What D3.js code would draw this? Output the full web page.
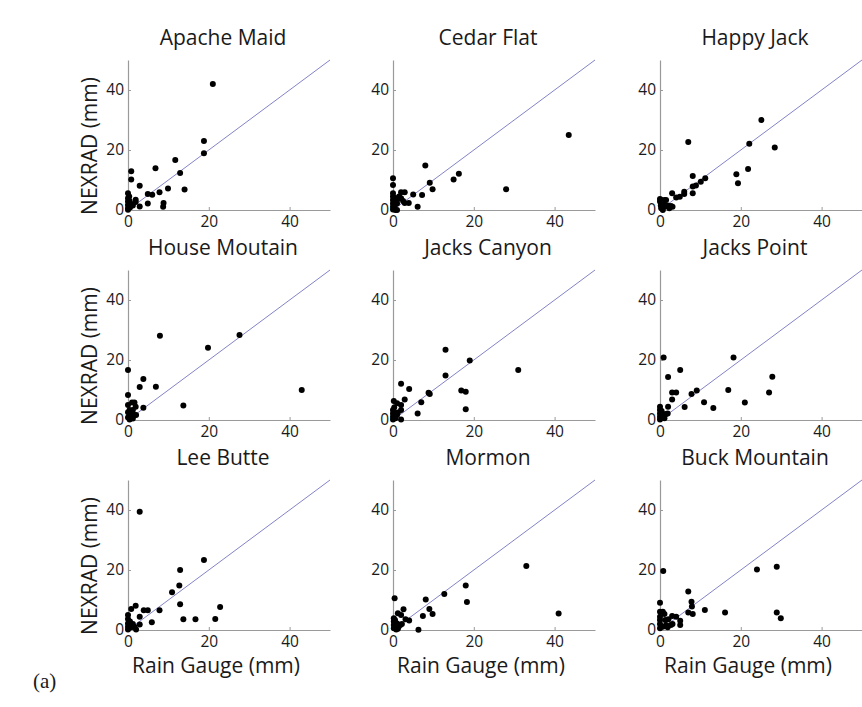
<!DOCTYPE html>
<html>
<head>
<meta charset="utf-8">
<script src="https://cdn.jsdelivr.net/npm/d3@7"></script>
<style>
  html, body { margin: 0; padding: 0; background: #ffffff; }
  svg { display: block; }
  text { font-family: "Open Sans", "Noto Sans", sans-serif; fill: #1a1a1a; }
</style>
</head>
<body>
<svg id="chart" width="862" height="707"></svg>
<script>
// Station names, in panel order (row by row)
const stations = ["Apache Maid", "Cedar Flat", "Happy Jack",
                  "House Moutain", "Jacks Canyon", "Jacks Point",
                  "Lee Butte", "Mormon", "Buck Mountain"];

// [rain gauge (mm), NEXRAD (mm)] pairs per station
const apacheMaid = [[21,42],[18.8,23],[18.8,18.9],[11.7,16.7],[12.9,12.3],[14,6.8],[9.9,7.2],[7.8,5.9],[6.8,13.9],[6,5.1],[4.9,5.3],[4.9,2.2],[2.9,8.1],[2.9,1.2],[0.8,12.9],[0.8,10.2],[1.9,3.4],[1.9,2.7],[8.8,2.3],[8.7,1.1],[0,5.6],[0,3.9],[0,2.8],[0,1.7],[0,0.6],[0,0.1],[0.5,2],[0.5,0.8],[0.8,2],[1.2,1.5],[0.3,4.5],[0.4,3]];
const cedarFlat = [[43.5,25],[28,6.9],[16.3,12.1],[15,10.2],[8,14.8],[9.1,9.1],[9.8,6.9],[7.2,5],[5,5.2],[6.1,1.1],[3.9,2.3],[2.9,2.3],[2.9,5.9],[2,5.9],[2,3.9],[1,3.3],[1,2.2],[0,10.6],[0,8.3],[0,5.6],[0,4.5],[0,3.3],[0,2.2],[0,1.1],[0,0.2],[0.6,0],[1,0],[0.5,4],[1.5,4.5],[0.4,1.5],[2.5,3]];
const happyJack = [[25.1,30],[28.4,20.8],[22.1,22.1],[21.8,13.7],[18.9,11.9],[19.3,8.9],[7,22.7],[8.1,11.3],[8.1,5.6],[8.1,7.8],[8.9,8.2],[10.1,9.4],[11.2,10.6],[6,6.1],[6,5.3],[4.9,4.4],[4,4.2],[3,5.6],[0.3,3.3],[0.7,2.2],[1.1,1.1],[1.5,1.4],[1.9,1.5],[2.7,1.3],[3.1,1.1],[0.3,0.6],[0.7,0],[0,3.7],[0,2.8],[1.1,3.3],[1.5,3.3],[0.2,1.5],[2.3,0.6]];
const houseMoutain = [[43,10],[27.6,28.3],[19.8,24.1],[7.9,28.1],[0,16.7],[0,8.3],[3.8,13.7],[2.9,11],[6.9,11.1],[13.7,4.8],[3.8,4.1],[1,5.8],[1.6,5.8],[1.9,4.4],[1.2,3.3],[0.4,3.3],[0.4,2.2],[0.4,1.1],[0.4,0.2],[0,5],[0.8,1.7],[1.6,1.7],[2,1.7],[0,0.8],[1.2,0.5],[0,2.6]];
const jacksCanyon = [[31,16.7],[19,19.8],[13,23.4],[13,14.8],[16.9,9.8],[18,9.4],[18,3.6],[9.1,8.7],[8.8,9.1],[7,5.9],[6.1,2.2],[4,10.3],[2.9,6.8],[2,12.1],[2,5],[1,5.6],[0.2,6.3],[2,3.3],[2,0.2],[0,3.3],[0,2.2],[0,1.1],[0,0.2],[0.6,0.6],[1,1.7],[0.3,4.2],[1.2,2.5]];
const jacksPoint = [[0.9,20.8],[18.2,20.8],[27.8,14.4],[27,9.2],[21,5.8],[16.9,10],[13.2,4],[10.9,5.9],[9.1,9.8],[7.8,8.7],[6.1,4.3],[5,16.7],[4,9.2],[3,9.2],[3,6.8],[2,14.3],[2,4.4],[0,4.4],[0,3.3],[0,2.2],[0,1.1],[0,0.2],[0.7,2],[1.1,1.7],[1.5,2],[1.9,2.2],[1.1,0.6],[0.4,3],[0.6,1.2]];
const leeButte = [[2.9,39.4],[18.8,23.3],[12.9,20],[12.7,14.8],[10.9,12.6],[12.9,8.6],[13.7,3.6],[16.7,3.6],[21.6,3.7],[22.8,7.7],[7.8,6.6],[5.9,2.6],[4.9,6.6],[3.9,6.6],[2.9,4.4],[1.9,8.1],[0.8,7],[0,5],[0,3.7],[0,2.2],[0,1.1],[0,0.2],[1.6,1.1],[2.9,1.8],[0.8,0.9],[2,0.2],[0.5,2.8],[1.2,2]];
const mormon = [[33,21.3],[41,5.5],[18,14.8],[18.3,9.3],[12.7,12],[8.1,10.2],[9,7],[9.8,5.3],[7.4,4.7],[6.3,0.1],[4,3.2],[2.6,6.9],[1.2,5.6],[2,5],[0.4,10.6],[3.1,3.6],[0.2,3.9],[0.2,2.8],[0.2,1.7],[0.2,0.6],[0.6,1.1],[1,2.2],[1.4,1.1],[1.8,1.7],[2.2,2],[0.8,0.2],[0.5,3.3],[1.2,0.4]];
const buckMountain = [[0.8,19.7],[24,20.2],[28.9,21.1],[28.9,5.8],[29.9,3.9],[16.1,5.8],[11.1,6.7],[7,12.8],[7.8,9.4],[7.9,7.8],[8.1,5.3],[7,5.8],[5,3.1],[5,1.7],[4,4.4],[3,4.7],[2.1,3.6],[1.3,3.3],[0,9.1],[0,6.1],[0.7,6.1],[1.1,5.3],[0,4.4],[0,3.3],[0,2],[0,0.6],[0.7,1.1],[1.5,1.7],[2.7,1.7],[3.1,2],[1.9,0.9]];

const panelData = [apacheMaid, cedarFlat, happyJack,
                   houseMoutain, jacksCanyon, jacksPoint,
                   leeButte, mormon, buckMountain];

// Axis limits and tick values shared by every panel
const axisLimits = [0, 50];
const tickValues = [0, 20, 40];
const oneToOne = [[0, 0], [50, 50]];

const xLabel = "Rain Gauge (mm)";
const yLabel = "NEXRAD (mm)";
const panelTag = "(a)";

// Panel geometry
const colX = [128, 393, 660];   // pixel x of the gauge = 0 axis in each column
const rowY = [210, 420, 630];   // pixel y of the NEXRAD = 0 axis in each row
const plotW = 202;
const plotH = 150;

const svg = d3.select("#chart");

stations.forEach((name, i) => {
  const col = i % 3, row = Math.floor(i / 3);
  const g = svg.append("g")
    .attr("transform", `translate(${colX[col]},${rowY[row] - plotH})`);

  const x = d3.scaleLinear().domain(axisLimits).range([0, plotW]);
  const y = d3.scaleLinear().domain(axisLimits).range([plotH, 0]);

  // axes with inward ticks
  const xAxis = g.append("g")
    .attr("transform", `translate(0,${plotH})`)
    .call(d3.axisBottom(x).tickValues(tickValues).tickSizeInner(-3).tickSizeOuter(0).tickPadding(6));
  const yAxis = g.append("g")
    .call(d3.axisLeft(y).tickValues(tickValues).tickSizeInner(-3).tickSizeOuter(0).tickPadding(7));

  [xAxis, yAxis].forEach(a => {
    a.select(".domain").attr("stroke", "#9a9a9a").attr("stroke-width", 1.2);
    a.selectAll(".tick line").attr("stroke", "#9a9a9a");
    a.selectAll(".tick text")
      .style("font-family", "'Open Sans', sans-serif")
      .style("font-size", "15.5px").attr("fill", "#1a1a1a");
  });
  yAxis.selectAll(".tick text").attr("dx", "3");

  // 1:1 reference line
  g.append("path")
    .attr("d", d3.line().x(d => x(d[0])).y(d => y(d[1]))(oneToOne))
    .attr("fill", "none")
    .attr("stroke", "#8383c8")
    .attr("stroke-width", 1);

  // gauge vs radar points
  g.selectAll("circle.pt")
    .data(panelData[i])
    .join("circle")
    .attr("class", "pt")
    .attr("cx", d => x(d[0]))
    .attr("cy", d => y(d[1]))
    .attr("r", 3)
    .attr("fill", "#000");

  // station title
  g.append("text")
    .attr("x", plotW / 2 - 6)
    .attr("y", -15)
    .attr("text-anchor", "middle")
    .style("font-size", "21px")
    .text(name);

  if (col === 0) {
    g.append("text")
      .attr("transform", `translate(-31,${plotH - 64}) rotate(-90)`)
      .attr("text-anchor", "middle")
      .style("font-size", "21px")
      .text(yLabel);
  }
  if (row === 2) {
    g.append("text")
      .attr("x", plotW / 2 - 13)
      .attr("y", plotH + 43)
      .attr("text-anchor", "middle")
      .style("font-size", "21px")
      .text(xLabel);
  }
});

svg.append("text")
  .attr("x", 33)
  .attr("y", 688)
  .style("font-family", "'Liberation Serif', 'Times New Roman', serif")
  .style("font-size", "21px")
  .text(panelTag);
</script>
</body>
</html>
